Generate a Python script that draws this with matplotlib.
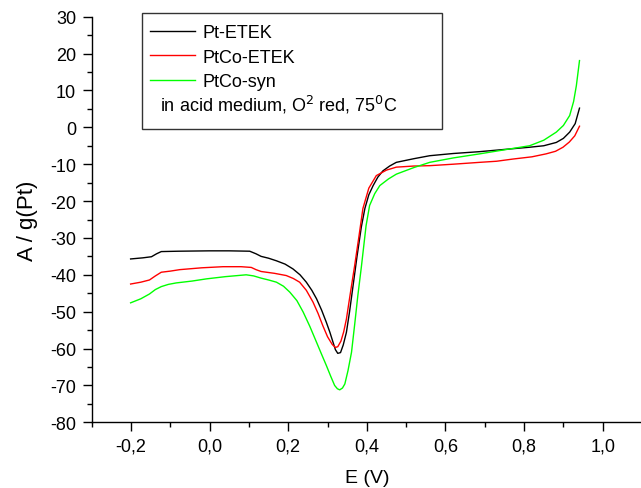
"""
Oxygen reduction polarisation curves of Pt and PtCo catalysts in acid medium.
"""

import matplotlib
matplotlib.use('Agg')
import matplotlib.pyplot as plt
from matplotlib.lines import Line2D
from matplotlib.patches import Rectangle
from matplotlib.ticker import MultipleLocator, FuncFormatter

plt.rcParams['font.family'] = ['Liberation Sans', 'DejaVu Sans']
plt.rcParams['axes.unicode_minus'] = False

# potential (V) / specific current (A per g Pt)
pt_etek_E = [-0.201, -0.17, -0.148, -0.135, -0.123, -0.08, 0.0, 0.05, 0.102, 0.118,
             0.131, 0.150, 0.170, 0.192, 0.212, 0.230, 0.246, 0.260, 0.272, 0.285,
             0.297, 0.306, 0.314, 0.320, 0.326, 0.333, 0.340, 0.348, 0.356, 0.365,
             0.375, 0.386, 0.395, 0.405, 0.416, 0.428, 0.441, 0.458, 0.475, 0.52,
             0.56, 0.62, 0.687, 0.75, 0.814, 0.85, 0.882, 0.90, 0.916, 0.93, 0.941]
pt_etek_I = [-35.7, -35.4, -35.1, -34.3, -33.7, -33.6, -33.5, -33.5, -33.6, -34.3,
             -35.0, -35.5, -36.2, -37.1, -38.4, -40.0, -42.0, -44.2, -46.5, -49.6,
             -52.9, -55.6, -58.3, -60.3, -61.3, -61.1, -59.0, -55.6, -50.0, -42.9,
             -35.0, -27.0, -22.0, -18.3, -15.8, -13.5, -11.8, -10.5, -9.5, -8.5,
             -7.7, -7.1, -6.6, -6.0, -5.4, -5.0, -4.1, -3.0, -1.3, 1.0, 5.2]

ptco_etek_E = [-0.201, -0.175, -0.153, -0.138, -0.123, -0.10, -0.076, -0.02, 0.034, 0.08,
               0.106, 0.118, 0.131, 0.165, 0.195, 0.213, 0.229, 0.246, 0.263, 0.276,
               0.288, 0.300, 0.312, 0.320, 0.326, 0.334, 0.341, 0.348, 0.358, 0.369,
               0.380, 0.390, 0.405, 0.424, 0.45, 0.475, 0.52, 0.56, 0.62, 0.687,
               0.73, 0.772, 0.82, 0.856, 0.88, 0.899, 0.915, 0.929, 0.941]
ptco_etek_I = [-42.5, -42.0, -41.4, -40.3, -39.3, -39.0, -38.6, -38.1, -37.8, -37.8,
               -38.0, -38.6, -39.1, -39.6, -40.2, -41.0, -42.0, -44.2, -47.4, -50.5,
               -53.8, -56.8, -58.9, -59.7, -59.5, -58.0, -55.5, -52.0, -45.0, -37.5,
               -29.5, -22.0, -16.5, -13.1, -11.6, -10.8, -10.5, -10.4, -10.0, -9.5,
               -9.2, -8.6, -8.0, -7.2, -6.5, -5.4, -4.0, -2.3, 0.3]

ptco_syn_E = [-0.201, -0.175, -0.153, -0.138, -0.123, -0.105, -0.085, -0.045, -0.008, 0.04,
              0.093, 0.112, 0.131, 0.150, 0.170, 0.188, 0.204, 0.222, 0.238, 0.255,
              0.272, 0.285, 0.297, 0.308, 0.318, 0.325, 0.331, 0.338, 0.344, 0.352,
              0.361, 0.369, 0.377, 0.386, 0.398, 0.407, 0.420, 0.433, 0.455, 0.475,
              0.52, 0.56, 0.62, 0.687, 0.75, 0.814, 0.85, 0.882, 0.90, 0.916,
              0.926, 0.933, 0.941]
ptco_syn_I = [-47.6, -46.5, -45.2, -44.0, -43.2, -42.6, -42.2, -41.7, -41.1, -40.5,
              -40.0, -40.3, -40.9, -41.4, -42.0, -43.1, -44.7, -47.0, -50.1, -54.0,
              -58.3, -61.6, -64.6, -67.5, -70.0, -70.9, -71.2, -70.7, -69.6, -66.0,
              -61.0, -53.5, -45.7, -37.9, -26.7, -21.2, -18.0, -15.8, -14.0, -12.7,
              -10.9, -9.5, -8.3, -7.2, -6.1, -5.0, -3.5, -1.3, 0.5, 3.2,
              7.0, 11.3, 18.1]

labels = ['Pt-ETEK', 'PtCo-ETEK', 'PtCo-syn']
colors = ['black', '#ff0000', '#00ff00']
note = 'in acid medium, O$^2$ red, 75$^0$C'

W, H = 641, 489
fig = plt.figure(figsize=(W / 100, H / 100), dpi=100)
ax = fig.add_axes([91.7 / W, 1 - 423.3 / H, (642 - 91.7) / W, (423.3 - 17.7) / H])

series = [(pt_etek_E, pt_etek_I), (ptco_etek_E, ptco_etek_I), (ptco_syn_E, ptco_syn_I)]
for (e, i), lab, c in zip(series, labels, colors):
    ax.plot(e, i, color=c, lw=1.0, label=lab)

ax.set_xlim(-0.3, 1.1)
ax.set_ylim(-80, 30)
ax.xaxis.set_major_locator(MultipleLocator(0.2))
ax.xaxis.set_minor_locator(MultipleLocator(0.1))
ax.yaxis.set_major_locator(MultipleLocator(10))
ax.yaxis.set_minor_locator(MultipleLocator(5))
ax.xaxis.set_major_formatter(FuncFormatter(lambda v, p: f'{v:.1f}'.replace('.', ',').replace('-0,0', '0,0')))
ax.yaxis.set_major_formatter(FuncFormatter(lambda v, p: f'{v:.0f}'))

for s in ['top', 'right']:
    ax.spines[s].set_visible(False)
for s in ['left', 'bottom']:
    ax.spines[s].set_linewidth(1.0)
ax.tick_params(which='major', direction='out', length=6.2, width=1.0, labelsize=13, pad=5)
ax.tick_params(which='minor', direction='out', length=3.6, width=1.0)

ax.set_xlabel('E (V)', fontsize=14, labelpad=10)
ax.set_ylabel('A / g(Pt)', fontsize=16, labelpad=9)

# legend box holds the three curves plus the conditions line
fig.patches.append(Rectangle((141.7 / W, 1 - 130 / H), 300 / W, 115.7 / H,
                             transform=fig.transFigure, fill=False,
                             edgecolor='#333333', lw=1.0))
handles = [Line2D([], [], color=c, lw=1.0) for c in colors]
fig.legend(handles, labels, loc='upper left', bbox_to_anchor=(150 / W, 1 - 25.5 / H),
           frameon=False, fontsize=13, handlelength=2.47, handletextpad=0.46,
           labelspacing=0.4, borderaxespad=0, borderpad=0)
fig.text(160 / W, 1 - 105 / H, note, fontsize=13, va='center', ha='left')

fig.savefig('out.png', dpi=100)
